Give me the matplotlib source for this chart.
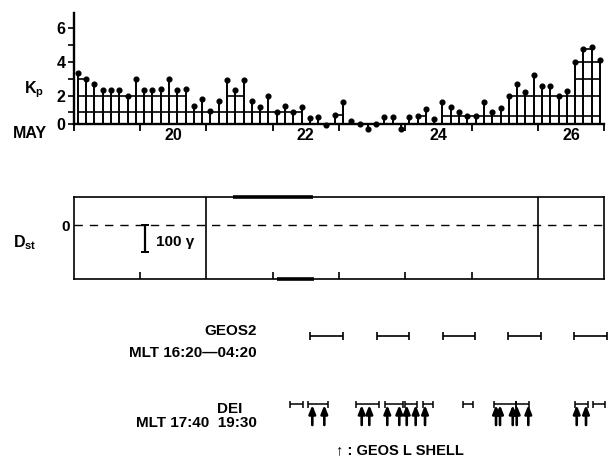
import numpy as np
import matplotlib
matplotlib.use("Agg")
import matplotlib.pyplot as plt

plt.rcParams['font.family'] = ['Liberation Sans', 'DejaVu Sans']
plt.rcParams['font.weight'] = 'bold'
plt.rcParams['mathtext.fontset'] = 'custom'
plt.rcParams['mathtext.rm'] = 'Liberation Sans:bold'

W, H = 609, 469

# 3-hourly Kp, May 19 00 UT .. May 26 24 UT
kp = [3.33, 3.0, 2.67, 2.33, 2.33, 2.33, 2.0, 3.0,
      2.33, 2.33, 2.4, 3.0, 2.33, 2.4, 1.4, 1.8,
      1.1, 1.7, 2.9, 2.33, 2.9, 1.7, 1.35, 2.0,
      1.05, 1.4, 1.0, 1.35, 0.65, 0.7, 0.26, 0.85,
      1.64, 0.5, 0.3, 0.0, 0.33, 0.7, 0.7, 0.0,
      0.7, 0.8, 1.2, 0.6, 1.64, 1.3, 1.0, 0.8,
      0.8, 1.6, 1.0, 1.25, 2.0, 2.67, 2.2, 3.2,
      2.6, 2.6, 2.0, 2.3, 4.0, 4.8, 4.9, 4.1]
kp_days = 19 + (np.arange(len(kp)) + 0.5) / 8.0
day_labels = [20, 22, 24, 26]

dst_zero = 0.0

# GEOS2 coverage (day of May, UT), MLT 16:20-04:20
geos_start = [22.56, 23.57, 24.575, 25.546, 26.551]
geos_end = [23.057, 24.062, 25.053, 26.048, 27.048]

# DEI passes and GEOS L-shell crossings
dei_start = [22.262, 22.538, 23.258, 23.700, 24.000, 24.273, 24.867, 25.344, 25.671, 26.561, 26.837]
dei_end = [22.454, 22.840, 23.609, 23.970, 24.173, 24.424, 25.027, 25.671, 25.872, 26.762, 27.014]
lshell = [22.599, 22.780, 23.344, 23.459, 23.730, 23.911, 24.023, 24.158, 24.299,
          25.370, 25.430, 25.622, 25.682, 25.857, 26.587, 26.727]


def fx(px):
    return px / W


def fy(py):
    return 1 - py / H


fig = plt.figure(figsize=(W / 100, H / 100), dpi=100)
left, right = 73.7, 604.1

# ---- Kp panel
ax = fig.add_axes([fx(left), fy(134.3), fx(right - left), (134.3 - 13.2) / H])
base = 0.3
ax.vlines(kp_days, base, kp, color='k', lw=1.4)
ax.plot(kp_days, kp, 'o', color='k', ms=3.4)
# level lines joining consecutive stems that reach each level
kp_arr = np.array(kp)
for lev in range(1, 6):
    ok = kp_arr >= lev - 0.21
    i = 0
    while i < len(kp):
        if ok[i]:
            j = i
            while j + 1 < len(kp) and ok[j + 1]:
                j += 1
            if j > i:
                yl = min(lev, kp_arr[i:j + 1].min())
                ax.hlines(yl, kp_days[i], kp_days[j], color='k', lw=1.2)
            i = j + 1
        else:
            i += 1
ax.set_xlim(19, 27)
ax.set_ylim(-0.3, 6.9)
for s in ['top', 'right']:
    ax.spines[s].set_visible(False)
ax.spines['bottom'].set_position(('data', base))
ax.spines['left'].set_bounds(base, 6.9)
ax.spines['bottom'].set_linewidth(1.7)
ax.spines['left'].set_linewidth(1.7)
ax.set_yticks([base, 2, 4, 6], labels=['0', '2', '4', '6'])
ax.set_yticks([1, 3, 5], minor=True)
ax.set_xticks(np.arange(19, 28))
ax.set_xticklabels([])
ax.set_xticks([d + 0.5 for d in day_labels], minor=True)
ax.set_xticklabels([str(d) for d in day_labels], minor=True)
ax.tick_params(axis='x', which='major', length=5, width=1.3, direction='out')
ax.tick_params(axis='x', which='minor', length=0, pad=3, labelsize=11.5)
ax.tick_params(axis='y', which='both', length=4, width=1.2, labelsize=11.5, pad=2)
fig.text(fx(24), fy(93), r'K$_{\rm p}$', fontsize=11.5, ha='left', va='baseline')
fig.text(fx(13), fy(133), 'MAY', fontsize=11.5, ha='left', va='center')

# ---- Dst panel
ax2 = fig.add_axes([fx(left), fy(279.3), fx(right - left), (279.3 - 196.7) / H])
ax2.set_xlim(19, 27)
ax2.set_ylim(-201, 105)
ax2.axhline(dst_zero, color='k', lw=1.0, ls=(0, (6, 5)))
for d in [21, 26]:
    ax2.axvline(d, color='k', lw=1.2)
ax2.hlines(105, 21.40, 22.61, color='k', lw=2.6, clip_on=False)
ax2.hlines(-201, 22.07, 22.62, color='k', lw=2.6, clip_on=False)
# scale bar 100 gamma
ax2.vlines(20.075, -100, 0, color='k', lw=1.6)
ax2.hlines([0, -100], 20.02, 20.13, color='k', lw=1.4)
ax2.text(20.24, -62, '100 γ', fontsize=11, ha='left', va='center')
ax2.set_xticks([20, 22, 23, 24, 25])
ax2.set_xticklabels([])
ax2.set_yticks([0], labels=['0'])
ax2.tick_params(axis='x', length=5, width=1.2, direction='in')
ax2.tick_params(axis='y', length=0, labelsize=11, pad=3)
for s in ax2.spines.values():
    s.set_linewidth(1.2)
fig.text(fx(13), fy(243), r'D$_{\rm st}$', fontsize=11.5, ha='left', va='center')

# ---- satellite coverage rows
ax3 = fig.add_axes([fx(left), 0, fx(right - left), fy(300)])
ax3.set_xlim(19, 27)
ax3.set_ylim(H, 300)
ax3.axis('off')
yg = 335.5
ax3.hlines([yg] * len(geos_start), geos_start, geos_end, color='k', lw=1.2, clip_on=False)
ax3.vlines(geos_start + geos_end, yg - 4, yg + 4, color='k', lw=1.2, clip_on=False)
yd = 404
ax3.hlines([yd] * len(dei_start), dei_start, dei_end, color='k', lw=1.1, clip_on=False)
ax3.vlines(dei_start + dei_end, yd - 3.5, yd + 3.5, color='k', lw=1.1, clip_on=False)
for t in lshell:
    ax3.annotate('', xy=(t, 405), xytext=(t, 425),
                 arrowprops=dict(arrowstyle='-|>,head_width=0.22,head_length=0.55',
                                 mutation_scale=9, lw=1.9, color='k',
                                 shrinkA=0, shrinkB=0))

fig.text(fx(257), fy(331), 'GEOS2', fontsize=11, ha='right', va='center')
fig.text(fx(257), fy(353), 'MLT 16:20—04:20', fontsize=11, ha='right', va='center')
fig.text(fx(230), fy(409), 'DEI', fontsize=11, ha='center', va='center')
fig.text(fx(257), fy(423), 'MLT 17:40  19:30', fontsize=11, ha='right', va='center')
fig.text(fx(400), fy(450), '↑ : GEOS L SHELL', fontsize=10.5, ha='center', va='center')

fig.savefig('out.png', dpi=100)
